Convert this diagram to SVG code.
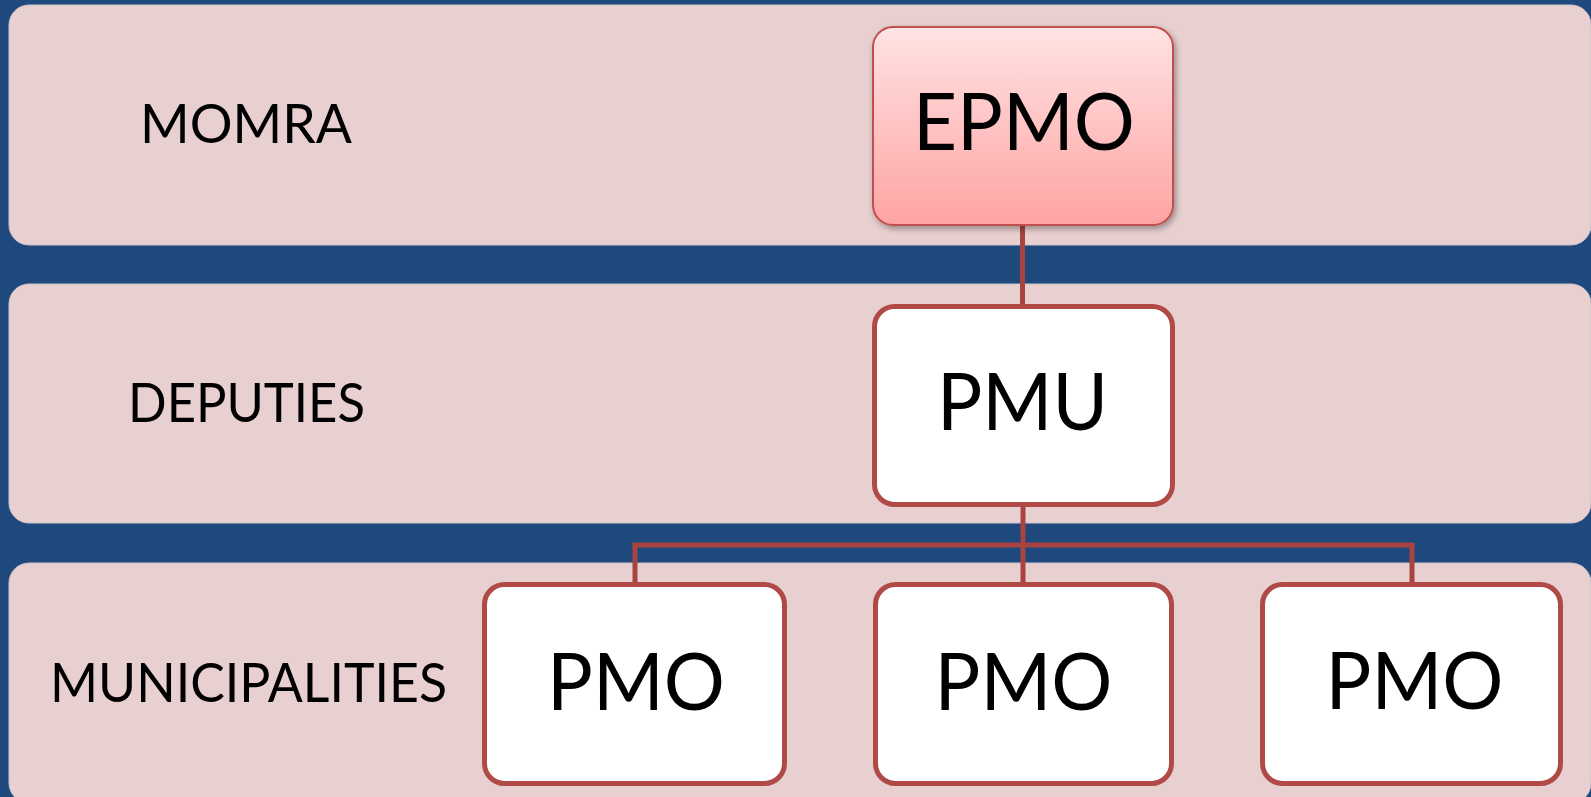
<svg xmlns="http://www.w3.org/2000/svg" width="1591" height="797" viewBox="0 0 1591 797">
<defs>
<linearGradient id="gEpmo" x1="0" y1="0" x2="0" y2="1">
<stop offset="0" stop-color="#FFE3E3"/>
<stop offset="0.6" stop-color="#FFBDBD"/>
<stop offset="1" stop-color="#FFA3A3"/>
</linearGradient>
<filter id="shadow" x="-10%" y="-10%" width="125%" height="125%">
<feDropShadow dx="2" dy="3" stdDeviation="3" flood-color="#000" flood-opacity="0.35"/>
</filter>
</defs>
<style>
.band{fill:#E8D0D1;stroke:#C9C4CC;stroke-width:1}
.box{fill:#FFFFFF;stroke:#B04A47;stroke-width:5}
.conn{fill:none;stroke:#A8433F;stroke-width:5;stroke-linejoin:miter}
.lbl{font-family:Lato,"Open Sans","Liberation Sans",sans-serif;font-size:55px;fill:#000;text-anchor:middle}
.big{font-family:Lato,"Open Sans","Liberation Sans",sans-serif;font-size:80px;fill:#000;text-anchor:middle}
</style>
<rect x="0" y="0" width="1591" height="797" fill="#1F497D"/>
<g id="band-momra">
<rect class="band" x="9" y="5" width="1582" height="240" rx="20"/>
<text class="lbl" x="246" y="143" textLength="212" lengthAdjust="spacingAndGlyphs">MOMRA</text>
</g>
<g id="band-deputies">
<rect class="band" x="9" y="284" width="1582" height="239" rx="20"/>
<text class="lbl" x="246.5" y="422" textLength="237" lengthAdjust="spacingAndGlyphs">DEPUTIES</text>
</g>
<g id="band-municipalities">
<rect class="band" x="9" y="563" width="1582" height="240" rx="20"/>
<text class="lbl" x="248.5" y="702" textLength="397" lengthAdjust="spacingAndGlyphs">MUNICIPALITIES</text>
</g>
<g id="connectors">
<path class="conn" d="M1022.5 225 V306"/>
<path class="conn" d="M1023 505 V584"/>
<path class="conn" d="M635 584 V545 H1412 V584"/>
</g>
<g id="node-epmo">
<rect x="873" y="27" width="300" height="198" rx="20" fill="url(#gEpmo)" stroke="#C0504D" stroke-width="2" filter="url(#shadow)"/>
<text class="big" x="1024" y="150" textLength="222" lengthAdjust="spacingAndGlyphs">EPMO</text>
</g>
<g id="node-pmu">
<rect class="box" x="874.5" y="306.5" width="298" height="198" rx="20"/>
<text class="big" x="1022.5" y="430" textLength="171" lengthAdjust="spacingAndGlyphs">PMU</text>
</g>
<g id="node-pmo1">
<rect class="box" x="484.5" y="584.5" width="300" height="199" rx="20"/>
<text class="big" x="636" y="710" textLength="178" lengthAdjust="spacingAndGlyphs">PMO</text>
</g>
<g id="node-pmo2">
<rect class="box" x="875.5" y="584.5" width="296" height="199" rx="20"/>
<text class="big" x="1023.5" y="710" textLength="178" lengthAdjust="spacingAndGlyphs">PMO</text>
</g>
<g id="node-pmo3">
<rect class="box" x="1262.5" y="584.5" width="298" height="199" rx="20"/>
<text class="big" x="1414.5" y="709" textLength="178" lengthAdjust="spacingAndGlyphs">PMO</text>
</g>
</svg>
